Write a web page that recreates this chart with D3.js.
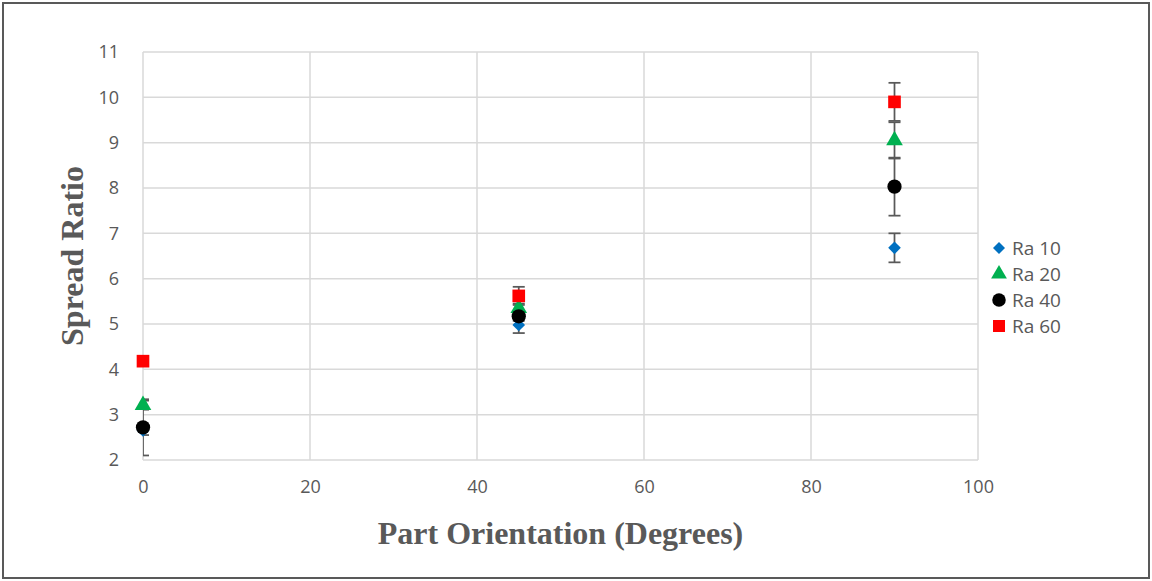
<!DOCTYPE html>
<html lang="en">
<head>
  <meta charset="UTF-8">
  <title>Spread Ratio vs Part Orientation</title>
  <script src="https://d3js.org/d3.v7.min.js"></script>
  <style>
    body { margin: 0; background: #fff; }
    svg { display: block; }
    .tick text { font-family: "Open Sans", "Liberation Sans", sans-serif; fill: #595959; }
  </style>
</head>
<body>
  <svg width="1152" height="581"></svg>
  <script>
    // data
    const orientations = [0, 45, 90];
    const seriesNames = ["Ra 10", "Ra 20", "Ra 40", "Ra 60"];
    const ra10 = [2.65, 4.98, 6.68];
    const ra20 = [3.21, 5.35, 9.05];
    const ra40 = [2.72, 5.17, 8.03];
    const ra60 = [4.18, 5.62, 9.90];
    const err10 = [0.1, 0.18, 0.32];
    const err20 = [0.1, 0.1, 0.4];
    const err40 = [0.62, 0.1, 0.64];
    const err60 = [0.05, 0.2, 0.42];
    const xTicks = [0, 20, 40, 60, 80, 100];
    const yTicks = [2, 3, 4, 5, 6, 7, 8, 9, 10, 11];

    const colors = ["#0070c0", "#00b050", "#000000", "#ff0000"];
    // Excel diamond = square turned 45deg
    const shapes = [d3.symbolSquare, d3.symbolTriangle, d3.symbolCircle, d3.symbolSquare];
    const rotations = [45, 0, 0, 0];
    const sizes = [80, 120, 160, 160];
    const values = [ra10, ra20, ra40, ra60];
    const errors = [err10, err20, err40, err60];

    const svg = d3.select("svg");
    const margin = {left: 143, right: 174, top: 52, bottom: 121};
    const width = 1152, height = 581;

    const x = d3.scaleLinear().domain([0, 100]).range([margin.left, width - margin.right]);
    const y = d3.scaleLinear().domain([2, 11]).range([height - margin.bottom, margin.top]);

    // outer frame
    svg.append("rect")
      .attr("x", 3).attr("y", 3).attr("width", width - 6).attr("height", height - 6)
      .attr("fill", "#fff").attr("stroke", "#595959").attr("stroke-width", 2);

    // gridlines
    svg.append("g")
      .selectAll("line").data(yTicks).join("line")
      .attr("x1", x(0)).attr("x2", x(100))
      .attr("y1", d => y(d)).attr("y2", d => y(d))
      .attr("stroke", "#d9d9d9").attr("stroke-width", 1.5);
    svg.append("g")
      .selectAll("line").data(xTicks).join("line")
      .attr("x1", d => x(d)).attr("x2", d => x(d))
      .attr("y1", y(2)).attr("y2", y(11))
      .attr("stroke", "#d9d9d9").attr("stroke-width", 1.5);

    // axes (labels only)
    const xAxis = svg.append("g")
      .attr("transform", `translate(0,${y(2)})`)
      .call(d3.axisBottom(x).tickValues(xTicks).tickSize(0).tickPadding(20));
    xAxis.select(".domain").remove();
    xAxis.selectAll("text").attr("font-size", 18);

    const yAxis = svg.append("g")
      .attr("transform", `translate(${x(0)},0)`)
      .call(d3.axisLeft(y).tickValues(yTicks).tickSize(0).tickPadding(24));
    yAxis.select(".domain").remove();
    yAxis.selectAll("text").attr("font-size", 18);

    // clip for error bars
    svg.append("clipPath").attr("id", "plot")
      .append("rect").attr("x", x(0)).attr("y", 0)
      .attr("width", x(100) - x(0)).attr("height", y(2) + 1);

    const errG = svg.append("g").attr("clip-path", "url(#plot)");
    values.forEach((vals, s) => {
      orientations.forEach((o, i) => {
        const cx = x(o), lo = y(vals[i] - errors[s][i]), hi = y(vals[i] + errors[s][i]);
        errG.append("line").attr("x1", cx).attr("x2", cx).attr("y1", lo).attr("y2", hi)
          .attr("stroke", "#595959").attr("stroke-width", 1.75);
        [lo, hi].forEach(yy => errG.append("line")
          .attr("x1", cx - 6).attr("x2", cx + 6).attr("y1", yy).attr("y2", yy)
          .attr("stroke", "#595959").attr("stroke-width", 1.75));
      });
    });

    // markers
    values.forEach((vals, s) => {
      svg.append("g").selectAll("path").data(vals).join("path")
        .attr("transform", (d, i) => `translate(${x(orientations[i])},${y(d)}) rotate(${rotations[s]})`)
        .attr("d", d3.symbol().type(shapes[s]).size(sizes[s]))
        .attr("fill", colors[s]);
    });

    // axis titles
    svg.append("text")
      .attr("x", (x(0) + x(100)) / 2).attr("y", 544)
      .attr("text-anchor", "middle")
      .attr("font-family", "'Liberation Serif', 'Times New Roman', serif")
      .attr("font-weight", "bold").attr("font-size", 32).attr("fill", "#595959")
      .text("Part Orientation (Degrees)");
    svg.append("text")
      .attr("transform", `translate(83,${(y(2) + y(11)) / 2}) rotate(-90)`)
      .attr("text-anchor", "middle")
      .attr("font-family", "'Liberation Serif', 'Times New Roman', serif")
      .attr("font-weight", "bold").attr("font-size", 32).attr("fill", "#595959")
      .text("Spread Ratio");

    // legend
    const legend = svg.append("g").attr("transform", "translate(999,248)");
    seriesNames.forEach((name, s) => {
      const row = legend.append("g").attr("transform", `translate(0,${s * 26})`);
      row.append("path")
        .attr("transform", `rotate(${rotations[s]})`)
        .attr("d", d3.symbol().type(shapes[s]).size(sizes[s] * 0.9))
        .attr("fill", colors[s]);
      row.append("text")
        .attr("x", 13).attr("y", 7)
        .attr("font-family", "'Open Sans', 'Liberation Sans', sans-serif")
        .attr("font-size", 19).attr("fill", "#595959")
        .text(name);
    });
  </script>
</body>
</html>
